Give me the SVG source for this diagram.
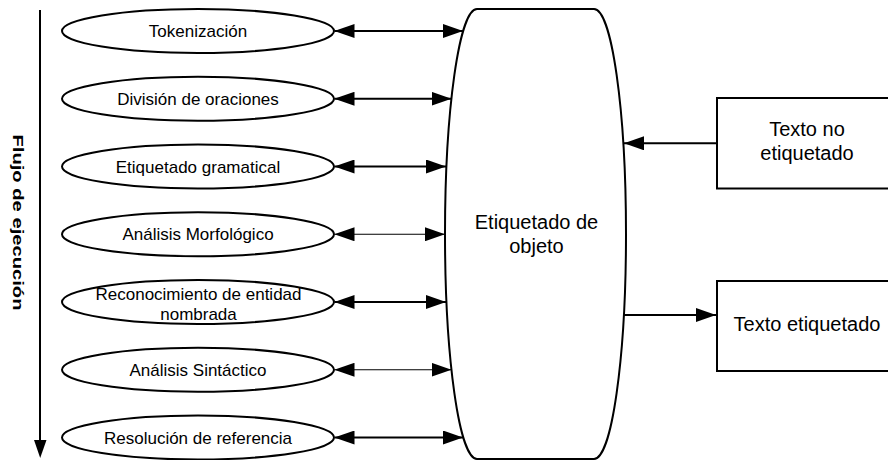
<svg xmlns="http://www.w3.org/2000/svg" width="888" height="460" viewBox="0 0 888 460">
<defs>
<style>
.shape{fill:#fff;stroke:#000;stroke-width:2}
.t17{font-family:"Liberation Sans",Arial,sans-serif;font-size:17px;fill:#000;text-anchor:middle}
.t20{font-family:"Liberation Sans",Arial,sans-serif;font-size:20px;fill:#000;text-anchor:middle}
.conn{stroke:#000;stroke-width:2;fill:none}
.thin{stroke-width:1.2}
</style>
<marker id="ah" markerUnits="userSpaceOnUse" markerWidth="20" markerHeight="14" refX="20" refY="7" orient="auto-start-reverse" viewBox="0 0 20 14">
<path d="M0,0 L20,7 L0,14 Z" fill="#000"/>
</marker>
</defs>
<rect width="888" height="460" fill="#fff"/>

<g id="flujo">
<line x1="40" y1="10" x2="40" y2="442" stroke="#000" stroke-width="2"/>
<polygon points="34,440 46.5,440 40.2,458" fill="#000"/>
<text transform="translate(12.5,222.5) rotate(90)" x="0" y="0" text-anchor="middle" font-family="'Liberation Sans',Arial,sans-serif" font-weight="bold" font-size="14" textLength="176" lengthAdjust="spacingAndGlyphs">Flujo de ejecución</text>
</g>

<g id="tokenizacion">
<ellipse class="shape" cx="198" cy="31" rx="136" ry="22"/>
<text class="t17" x="198" y="37">Tokenización</text>
</g>
<g id="division">
<ellipse class="shape" cx="198" cy="98.75" rx="136" ry="22"/>
<text class="t17" x="198" y="104.75">División de oraciones</text>
</g>
<g id="etiquetado-gramatical">
<ellipse class="shape" cx="198" cy="166.5" rx="136" ry="22"/>
<text class="t17" x="198" y="172.5">Etiquetado gramatical</text>
</g>
<g id="analisis-morfologico">
<ellipse class="shape" cx="198" cy="234.25" rx="136" ry="22"/>
<text class="t17" x="198" y="240.25">Análisis Morfológico</text>
</g>
<g id="reconocimiento">
<ellipse class="shape" cx="198" cy="302" rx="136" ry="22"/>
<text class="t17" x="198.5" y="299.5">Reconocimiento de entidad</text>
<text class="t17" x="198.5" y="320">nombrada</text>
</g>
<g id="analisis-sintactico">
<ellipse class="shape" cx="198" cy="369.75" rx="136" ry="22"/>
<text class="t17" x="198" y="375.75">Análisis Sintáctico</text>
</g>
<g id="resolucion">
<ellipse class="shape" cx="198" cy="437.5" rx="136" ry="22"/>
<text class="t17" x="198" y="443.5">Resolución de referencia</text>
</g>

<g id="etiquetado-objeto">
<path class="shape" d="M477,9 L594,9 A32,225 0 0 1 594,459 L477,459 A32,225 0 0 1 477,9 Z"/>
<text class="t20" x="536.5" y="228.5">Etiquetado de</text>
<text class="t20" x="536.5" y="252.5">objeto</text>
</g>

<g id="texto-no-etiquetado">
<rect class="shape" x="717" y="98" width="180" height="90.5"/>
<text class="t20" x="807" y="136">Texto no</text>
<text class="t20" x="807" y="160">etiquetado</text>
</g>
<g id="texto-etiquetado">
<rect class="shape" x="717" y="281" width="180" height="90"/>
<text class="t20" x="807" y="331">Texto etiquetado</text>
</g>

<g id="connectors">
<line class="conn" x1="334.5" y1="31" x2="463" y2="31" marker-start="url(#ah)" marker-end="url(#ah)"/>
<line class="conn" x1="334.5" y1="98.75" x2="451.5" y2="98.75" marker-start="url(#ah)" marker-end="url(#ah)"/>
<line class="conn" x1="334.5" y1="166.5" x2="446" y2="166.5" marker-start="url(#ah)" marker-end="url(#ah)"/>
<line class="conn thin" x1="334.5" y1="234.25" x2="445" y2="234.25" marker-start="url(#ah)" marker-end="url(#ah)"/>
<line class="conn" x1="334.5" y1="302" x2="446" y2="302" marker-start="url(#ah)" marker-end="url(#ah)"/>
<line class="conn thin" x1="334.5" y1="369.75" x2="451.5" y2="369.75" marker-start="url(#ah)" marker-end="url(#ah)"/>
<line class="conn" x1="334.5" y1="437.5" x2="463" y2="437.5" marker-start="url(#ah)" marker-end="url(#ah)"/>
<line class="conn" x1="717" y1="143.3" x2="624" y2="143.3" marker-end="url(#ah)"/>
<line class="conn" x1="624" y1="315" x2="716" y2="315" marker-end="url(#ah)"/>
</g>
</svg>
